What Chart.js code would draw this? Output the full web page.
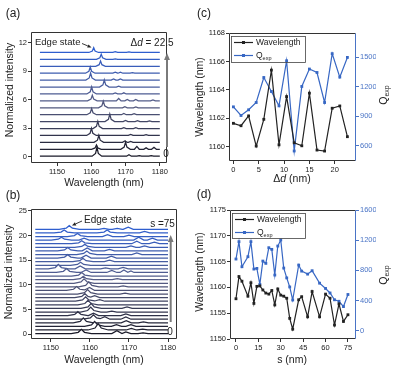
<!DOCTYPE html>
<html>
<head>
<meta charset="utf-8">
<script src="https://cdn.jsdelivr.net/npm/chart.js@4.4.1/dist/chart.umd.min.js"></script>
<style>
  html, body { margin: 0; padding: 0; background: #fff; }
  #wrap { position: relative; width: 394px; height: 375px; overflow: hidden; background: #fff; }
  canvas { position: absolute; left: 0; top: 0; }
</style>
</head>
<body>
<div id="wrap">
  <canvas id="chartA" width="394" height="375"></canvas>
  <canvas id="chartB" width="394" height="375"></canvas>
  <canvas id="chartC" width="394" height="375"></canvas>
  <canvas id="chartD" width="394" height="375"></canvas>
</div>
<script>
// ===============================
// Data
// ===============================

// (c) edge state vs. delta d
const deltaD = [0, 1.5, 3, 4.5, 6, 7.5, 9, 10.5, 12, 13.5, 15, 16.5, 18, 19.5, 21, 22.5];
const wavelengthC = [1161.65, 1161.48, 1162.17, 1160.05, 1161.93, 1165.39, 1160.14, 1163.53,
                     1160.28, 1160.07, 1163.77, 1159.77, 1159.70, 1162.71, 1162.87, 1160.71];
const qExpC = [994, 906, 964, 1038, 1292, 1150, 1004, 1462, 546, 1201, 1378, 1343, 1038, 1534, 1296, 1496];

// (d) edge state vs. s
const sValues = [0, 2, 4, 8, 10, 12, 14, 16, 18, 20, 22, 24, 26, 28, 30, 32, 34, 36, 38, 42,
                 44, 48, 51, 56, 60, 63, 66, 69, 72, 75];
const wavelengthD = [1157.8, 1162.1, 1161.2, 1158.3, 1160.9, 1156.9, 1160.2, 1160.3, 1159.5, 1158.9,
                     1158.7, 1159.4, 1156.6, 1159.7, 1158.5, 1158.3, 1157.9, 1154.0, 1151.9, 1157.6,
                     1158.2, 1154.3, 1159.2, 1154.3, 1158.7, 1157.9, 1152.7, 1156.8, 1153.4, 1154.7];
const qExpD = [950, 1180, 848, 981, 1180, 817, 826, 614, 923, 893, 1100, 1078, 738, 1122, 1202,
               830, 700, 580, 407, 870, 790, 750, 795, 630, 560, 500, 410, 390, 320, 480];

// tick labels
const ticksAx = [1150, 1160, 1170, 1180];
const ticksAy = [0, 3, 6, 9, 12];
const ticksBx = [1150, 1160, 1170, 1180];
const ticksBy = [0, 5, 10, 15, 20, 25];
const ticksCx = [0, 5, 10, 15, 20];
const ticksCy = [1160, 1162, 1164, 1166, 1168];
const ticksCq = [600, 900, 1200, 1500];
const ticksDx = [0, 15, 30, 45, 60, 75];
const ticksDy = [1150, 1155, 1160, 1165, 1170, 1175];
const ticksDq = [0, 400, 800, 1200, 1600];

// (a) spectra, [wavelength, intensity above own baseline], bottom (0) to top (22.5)
const offsetsA = [0.05, 0.78, 1.51, 2.24, 2.97, 3.7, 4.43, 5.16, 5.89, 6.62, 7.35, 8.08, 8.81, 9.54, 10.27, 11.0];
const spectraA = [
  [[1145,0],[1160.25,0],[1161.25,.29],[1161.65,.95],[1162.05,.29],[1163.05,0],[1170.3,0],[1171,.15],[1171.7,0],[1173.3,0],[1174,.06],[1174.7,0],[1176.8,0],[1177.5,.05],[1178.2,0],[1180,0]],
  [[1145,0],[1160.1,0],[1161.1,.14],[1161.5,.45],[1161.9,.14],[1162.9,0],[1168.6,0],[1169.6,.23],[1170,.75],[1170.4,.23],[1171.4,0],[1172.6,0],[1173.3,.3],[1174,0],[1175.3,0],[1176,.15],[1176.7,0],[1177.6,0],[1178.3,.2],[1179,0],[1180,0]],
  [[1145,0],[1160.8,0],[1161.8,.23],[1162.2,.75],[1162.6,.23],[1163.6,0],[1169.1,0],[1169.8,.15],[1170.5,0],[1170.8,0],[1171.5,.1],[1172.2,0],[1180,0]],
  [[1145,0],[1158.65,0],[1159.65,.23],[1160.05,.75],[1160.45,.23],[1161.45,0],[1170.8,0],[1171.5,.1],[1172.2,0],[1175.3,0],[1176,.08],[1176.7,0],[1180,0]],
  [[1145,0],[1160.5,0],[1161.5,.23],[1161.9,.75],[1162.3,.23],[1163.3,0],[1168.8,0],[1169.5,.1],[1170.2,0],[1172.3,0],[1173,.08],[1173.7,0],[1180,0]],
  [[1145,0],[1164,0],[1165,.24],[1165.4,.8],[1165.8,.24],[1166.8,0],[1169.3,0],[1170,.12],[1170.7,0],[1172.8,0],[1173.5,.1],[1174.2,0],[1176.3,0],[1177,.08],[1177.7,0],[1180,0]],
  [[1145,0],[1158.7,0],[1159.7,.2],[1160.1,.65],[1160.5,.2],[1161.5,0],[1168.8,0],[1169.5,.12],[1170.2,0],[1171.8,0],[1172.5,.1],[1173.2,0],[1180,0]],
  [[1145,0],[1162.1,0],[1163.1,.21],[1163.5,.7],[1163.9,.21],[1164.9,0],[1169.1,0],[1169.8,.12],[1170.5,0],[1172.3,0],[1173,.1],[1173.7,0],[1180,0]],
  [[1145,0],[1158.9,0],[1159.9,.18],[1160.3,.6],[1160.7,.18],[1161.7,0],[1167.3,0],[1168,.25],[1168.7,0],[1169.8,0],[1170.5,.15],[1171.2,0],[1172.3,0],[1173,.15],[1173.7,0],[1177.3,0],[1178,.1],[1178.7,0],[1180,0]],
  [[1145,0],[1158.7,0],[1159.7,.23],[1160.1,.75],[1160.5,.23],[1161.5,0],[1166.3,0],[1167,.1],[1167.7,0],[1168.8,0],[1169.5,.12],[1170.2,0],[1180,0]],
  [[1145,0],[1162.4,0],[1163.4,.23],[1163.8,.75],[1164.2,.23],[1165.2,0],[1167.3,0],[1168,.1],[1168.7,0],[1180,0]],
  [[1145,0],[1158.4,0],[1159.4,.23],[1159.8,.75],[1160.2,.23],[1161.2,0],[1165.8,0],[1166.5,.12],[1167.2,0],[1167.8,0],[1168.5,.12],[1169.2,0],[1180,0]],
  [[1145,0],[1158.3,0],[1159.3,.2],[1159.7,.65],[1160.1,.2],[1161.1,0],[1166.3,0],[1167,.1],[1167.7,0],[1167.8,0],[1168.5,.12],[1169.2,0],[1171.3,0],[1172,.06],[1172.7,0],[1180,0]],
  [[1145,0],[1161.3,0],[1162.3,.17],[1162.7,.55],[1163.1,.17],[1164.1,0],[1180,0]],
  [[1145,0],[1161.5,0],[1162.5,.17],[1162.9,.55],[1163.3,.17],[1164.3,0],[1166.3,0],[1167,.05],[1167.7,0],[1180,0]],
  [[1145,0],[1159.3,0],[1160.3,.15],[1160.7,.5],[1161.1,.15],[1162.1,0],[1166.3,0],[1167,.08],[1167.7,0],[1170.3,0],[1171,.06],[1171.7,0],[1180,0]]
];

// (b) spectra, bottom (s = 0) to top (s = 75)
const offsetsB = [0.1, 0.83, 1.56, 2.29, 3.02, 3.75, 4.48, 5.21, 5.94, 6.67, 7.4, 8.13, 8.86, 9.59, 10.32,
                  11.05, 11.78, 12.51, 13.24, 13.97, 14.7, 15.43, 16.16, 16.89, 17.62, 18.35, 19.08, 19.81, 20.54, 21.27];
const spectraB = [
  [[1146,0],[1155.2,0],[1157,.26],[1157.8,.85],[1158.6,.26],[1160.4,0],[1165.6,0],[1166.9,.6],[1168.2,0],[1169.2,.35],[1170.5,0],[1172.3,0],[1173.6,.15],[1174.9,0],[1180,0]],
  [[1146,0],[1159.5,0],[1161.3,.39],[1162.1,1.3],[1162.9,.39],[1164.7,0],[1169.3,0],[1170.6,.3],[1171.9,0],[1172.2,0],[1173.5,.15],[1174.8,0],[1180,0]],
  [[1146,0],[1158.6,0],[1160.4,.3],[1161.2,1.0],[1162,.3],[1163.8,0],[1165.5,0],[1166.8,.35],[1168.1,0],[1169.2,0],[1170.5,.35],[1171.8,0],[1180,0]],
  [[1146,0],[1155.7,0],[1157.5,.3],[1158.3,1.0],[1159.1,.3],[1160.9,0],[1168,0],[1169.3,.45],[1170.6,0],[1172.4,0],[1173.7,.2],[1175,0],[1180,0]],
  [[1146,0],[1158.3,0],[1160.1,.27],[1160.9,.9],[1161.7,.27],[1162.6,.1],[1163.8,.5],[1165.1,0],[1167.9,0],[1169.2,.45],[1170.5,0],[1180,0]],
  [[1146,0],[1154.3,0],[1156.1,.24],[1156.9,.8],[1157.7,.24],[1159.5,0],[1159.6,0],[1160.9,.5],[1162.2,0],[1167.9,0],[1169.2,.35],[1170.5,0],[1180,0]],
  [[1146,0],[1157.6,0],[1159.4,.3],[1160.2,1.0],[1161,.3],[1162.8,0],[1164.3,0],[1165.6,.2],[1166.9,0],[1180,0]],
  [[1146,0],[1157.7,0],[1159.5,.3],[1160.3,1.0],[1161.1,.3],[1162.9,0],[1168.2,0],[1169.5,.3],[1170.8,0],[1180,0]],
  [[1146,0],[1156.9,0],[1158.7,.27],[1159.5,.9],[1160.3,.27],[1162.1,0],[1180,0]],
  [[1146,0],[1156.3,0],[1158.1,.27],[1158.9,.9],[1159.7,.27],[1161.2,.05],[1162.5,.3],[1163.8,0],[1180,0]],
  [[1146,0],[1156.1,0],[1157.9,.24],[1158.7,.8],[1159.5,.24],[1160.2,.12],[1161.2,.4],[1162.5,0],[1180,0]],
  [[1146,0],[1156.8,0],[1158.6,.27],[1159.4,.9],[1160.2,.27],[1162,0],[1167.7,0],[1169,.2],[1170.3,0],[1180,0]],
  [[1146,0],[1154,0],[1155.8,.24],[1156.6,.8],[1157.4,.24],[1158.6,.1],[1159.9,.6],[1161.2,0],[1180,0]],
  [[1146,0],[1157.1,0],[1158.9,.3],[1159.7,1.0],[1160.5,.3],[1162.3,0],[1167.2,0],[1168.5,.2],[1169.8,0],[1180,0]],
  [[1146,0],[1155.9,0],[1157.7,.27],[1158.5,.9],[1159.3,.27],[1161.1,0],[1180,0]],
  [[1146,0],[1155.7,0],[1157.5,.21],[1158.3,.7],[1159.1,.21],[1160.9,0],[1165.7,0],[1167,.2],[1168.3,0],[1180,0]],
  [[1146,0],[1155.3,0],[1157.1,.21],[1157.9,.7],[1158.7,.21],[1160.5,0],[1180,0]],
  [[1146,0],[1151.4,0],[1153.2,.24],[1154,.8],[1154.8,.24],[1156.6,0],[1157.7,0],[1159,.5],[1160.3,0],[1164.3,0],[1165.6,.4],[1166.9,0],[1167.7,0],[1168.7,.5],[1169.7,.05],[1170.5,.3],[1171.3,0],[1180,0]],
  [[1146,0],[1149.3,0],[1151.1,.27],[1151.9,.9],[1152.7,.27],[1154.5,0],[1156.2,0],[1157.5,.6],[1158.8,0],[1162.7,0],[1164,.2],[1165.3,0],[1167.2,0],[1168.5,.3],[1169.8,0],[1180,0]],
  [[1146,0],[1155,0],[1156.8,.18],[1157.6,.6],[1158.4,.18],[1160.2,0],[1180,0]],
  [[1146,0],[1155.6,0],[1157.4,.21],[1158.2,.7],[1159,.21],[1160.8,0],[1163.7,0],[1165,.3],[1166.3,0],[1180,0]],
  [[1146,0],[1151.7,0],[1153.5,.21],[1154.3,.7],[1155.1,.21],[1156.9,0],[1157.7,0],[1159,.6],[1160.3,0],[1164.2,0],[1165.5,.4],[1166.8,0],[1180,0]],
  [[1146,0],[1156.6,0],[1158.4,.21],[1159.2,.7],[1160,.21],[1161.8,0],[1170.7,0],[1172,.3],[1173.3,0],[1180,0]],
  [[1146,0],[1151.7,0],[1153.5,.21],[1154.3,.7],[1155.1,.21],[1156.9,0],[1158,0],[1159.3,.6],[1160.6,0],[1163.7,0],[1165,.3],[1166.3,0],[1180,0]],
  [[1146,0],[1156.1,0],[1157.9,.18],[1158.7,.6],[1159.5,.18],[1161.3,0],[1169.2,0],[1170.5,.3],[1171.8,0],[1172.7,0],[1174,.3],[1175.3,0],[1180,0]],
  [[1146,0],[1155.3,0],[1157.1,.18],[1157.9,.6],[1158.7,.18],[1160.5,0],[1170.7,0],[1172,.5],[1173.3,0],[1175.2,0],[1176.5,.3],[1177.8,0],[1180,0]],
  [[1146,0],[1150.1,0],[1151.9,.18],[1152.7,.6],[1153.5,.18],[1155.3,0],[1157.2,0],[1158.5,.4],[1159.8,0],[1171.2,0],[1172.5,.6],[1173.8,0],[1174.7,0],[1176,.4],[1177.3,0],[1180,0]],
  [[1146,0],[1154.2,0],[1156,.18],[1156.8,.6],[1157.6,.18],[1159.4,0],[1163.2,0],[1164.5,.4],[1165.8,0],[1168.7,0],[1170,.3],[1171.3,0],[1180,0]],
  [[1146,0],[1150.8,0],[1152.6,.18],[1153.4,.6],[1154.2,.18],[1156,0],[1161.8,0],[1163.6,.18],[1164.4,.6],[1165.2,.18],[1167,0],[1172.7,0],[1174,.3],[1175.3,0],[1180,0]],
  [[1146,0],[1152.1,0],[1153.9,.23],[1154.7,.75],[1155.5,.23],[1157.3,0],[1162.3,0],[1163.6,.2],[1164.9,0],[1165.7,0],[1167,.2],[1168.3,0],[1168.5,0],[1169.8,.45],[1171.1,0],[1180,0]]
];

// ===============================
// Shared styling / helpers
// ===============================

const FONT = "'Liberation Sans', Arial, Helvetica, sans-serif";
const INK = '#222';
const BLUE = '#3767c4';
const AXIS_BLUE = '#4a74c6';

Chart.defaults.font.family = FONT;
Chart.defaults.color = INK;

function spectrumColor(t) {
  // dark navy -> grey-blue -> blue
  const stops = [[26, 26, 40], [86, 92, 132], [46, 94, 206]];
  const k = t < 0.5 ? 0 : 1;
  const u = t < 0.5 ? t * 2 : (t - 0.5) * 2;
  const a = stops[k], b = stops[k + 1];
  return 'rgb(' + a.map((v, j) => Math.round(v + (b[j] - v) * u)).join(',') + ')';
}

function axis(min, max, ticks, pos, color) {
  const c = color || INK;
  return {
    type: 'linear', position: pos, min: min, max: max,
    afterBuildTicks: s => { s.ticks = ticks.map(v => ({ value: v })); },
    afterFit: s => { if (pos === 'bottom') s.height = 20; else s.width = 20; },
    grid: { drawOnChartArea: false, drawTicks: true, tickLength: 3, color: c === INK ? '#333' : c },
    border: { display: false },
    ticks: {
      font: { size: 7.5 }, color: c, padding: 1, maxRotation: 0, autoSkip: false,
      callback: v => String(v)
    }
  };
}

function rich(ctx, item) {
  ctx.save();
  ctx.translate(item.x, item.y);
  if (item.rot) ctx.rotate(item.rot);
  ctx.fillStyle = item.color || INK;
  ctx.textBaseline = 'middle';
  const fontOf = p => (p.italic ? 'italic ' : '') + p.size + 'px ' + FONT;
  let w = 0;
  item.parts.forEach(p => { ctx.font = fontOf(p); w += ctx.measureText(p.t).width; });
  let x = item.align === 'left' ? 0 : item.align === 'right' ? -w : -w / 2;
  item.parts.forEach(p => {
    ctx.font = fontOf(p);
    ctx.fillText(p.t, x, p.dy || 0);
    x += ctx.measureText(p.t).width;
  });
  ctx.restore();
}

function arrow(ctx, a) {
  const [x1, y1, x2, y2, color, width, head] = a;
  const ang = Math.atan2(y2 - y1, x2 - x1);
  const bx = x2 - head * Math.cos(ang), by = y2 - head * Math.sin(ang);
  const hw = head * 0.42;
  ctx.save();
  ctx.strokeStyle = color; ctx.fillStyle = color; ctx.lineWidth = width;
  ctx.beginPath(); ctx.moveTo(x1, y1); ctx.lineTo(bx, by); ctx.stroke();
  ctx.beginPath();
  ctx.moveTo(x2, y2);
  ctx.lineTo(bx + hw * Math.sin(ang), by - hw * Math.cos(ang));
  ctx.lineTo(bx - hw * Math.sin(ang), by + hw * Math.cos(ang));
  ctx.closePath(); ctx.fill();
  ctx.restore();
}

// box frame around the plot area
const framePlugin = {
  id: 'frame',
  afterDatasetsDraw(chart, args, opts) {
    const { ctx, chartArea: a } = chart;
    const L = Math.round(a.left) + 0.5, R = Math.round(a.right) - 0.5;
    const T = Math.round(a.top) + 0.5, B = Math.round(a.bottom) - 0.5;
    const seg = (x1, y1, x2, y2, c) => {
      ctx.beginPath(); ctx.strokeStyle = c; ctx.moveTo(x1, y1); ctx.lineTo(x2, y2); ctx.stroke();
    };
    ctx.save();
    ctx.lineWidth = 1;
    seg(L, T, R, T, '#333');
    seg(L, B, R, B, '#333');
    seg(L, T, L, B, '#333');
    seg(R, T, R, B, opts.right || '#333');
    ctx.restore();
  }
};

// titles, labels, arrows, legend box
const notesPlugin = {
  id: 'notes',
  afterDraw(chart, args, opts) {
    const ctx = chart.ctx;
    (opts.arrows || []).forEach(a => arrow(ctx, a));
    (opts.texts || []).forEach(t => rich(ctx, t));
    const lg = opts.legend;
    if (lg) {
      ctx.save();
      ctx.strokeStyle = '#444'; ctx.lineWidth = 0.8;
      ctx.strokeRect(lg.x + 0.5, lg.y + 0.5, lg.w, lg.h);
      lg.rows.forEach(r => {
        ctx.strokeStyle = r.color; ctx.fillStyle = r.color; ctx.lineWidth = 1.2;
        ctx.beginPath(); ctx.moveTo(lg.x + 3, r.y); ctx.lineTo(lg.x + 22, r.y); ctx.stroke();
        ctx.fillRect(lg.x + 11, r.y - 1.5, 3, 3);
        rich(ctx, { x: lg.x + 25, y: r.y, align: 'left', parts: r.parts });
      });
      ctx.restore();
    }
  }
};

function baseOptions(padding, scales, frame, notes) {
  return {
    responsive: false,
    animation: false,
    events: [],
    layout: { padding: padding },
    plugins: {
      legend: { display: false },
      tooltip: { enabled: false },
      frame: frame,
      notes: notes
    },
    scales: scales
  };
}

function spectraDatasets(spectra, offsets, floor) {
  const n = spectra.length;
  return spectra.map((pts, i) => ({
    data: pts.map(p => ({ x: p[0], y: p[1] + offsets[i] })),
    borderColor: spectrumColor(i / (n - 1)),
    borderWidth: 1.25,
    pointRadius: 0,
    tension: 0,
    fill: { value: floor },
    backgroundColor: '#ffffff'
  }));
}

const T = (x, y, parts, extra) => Object.assign({ x: x, y: y, parts: parts }, extra || {});
const P = (t, size, more) => Object.assign({ t: t, size: size }, more || {});

// ===============================
// (a) Spectra vs. delta d
// ===============================

new Chart(document.getElementById('chartA'), {
  type: 'line',
  data: { datasets: spectraDatasets(spectraA, offsetsA, -0.4) },
  options: baseOptions(
    { left: 11, top: 32, right: 227, bottom: 192 },
    {
      x: axis(1142.4, 1182.1, ticksAx, 'bottom'),
      y: axis(-0.67, 13.16, ticksAy, 'left')
    },
    {},
    {
      arrows: [
        [167, 147, 167, 53, '#7a7a7a', 2, 7],
        [82, 43.5, 91.5, 47.5, INK, 0.9, 4]
      ],
      texts: [
        T(13, 14, [P('(a)', 12)]),
        T(10, 90, [P('Normalized intensity', 10.5)], { rot: -Math.PI / 2 }),
        T(104, 183, [P('Wavelength (nm)', 10.5)]),
        T(35, 42, [P('Edge state', 9.5)], { align: 'left' }),
        T(152, 43, [P('\u0394', 10), P('d', 10, { italic: true }), P(' = 22.5', 10)]),
        T(166, 154, [P('0', 10)])
      ]
    }
  ),
  plugins: [framePlugin, notesPlugin]
});

// ===============================
// (b) Spectra vs. s
// ===============================

new Chart(document.getElementById('chartB'), {
  type: 'line',
  data: { datasets: spectraDatasets(spectraB, offsetsB, -0.6) },
  options: baseOptions(
    { left: 11, top: 209, right: 217, bottom: 16 },
    {
      x: axis(1144.9, 1182.3, ticksBx, 'bottom'),
      y: axis(-1, 25.4, ticksBy, 'left')
    },
    {},
    {
      arrows: [
        [170.7, 322, 170.7, 235, '#7a7a7a', 2, 7],
        [82, 221, 72, 225.5, INK, 0.9, 4]
      ],
      texts: [
        T(13, 196, [P('(b)', 12)]),
        T(9, 272, [P('Normalized intensity', 10.5)], { rot: -Math.PI / 2 }),
        T(104, 360, [P('Wavelength (nm)', 10.5)]),
        T(84, 220, [P('Edge state', 10)], { align: 'left' }),
        T(162.5, 224, [P('s =75', 10)]),
        T(170, 332, [P('0', 10)])
      ]
    }
  ),
  plugins: [framePlugin, notesPlugin]
});

// ===============================
// (c) Wavelength and Q vs. delta d
// ===============================

new Chart(document.getElementById('chartC'), {
  type: 'line',
  data: {
    datasets: [
      {
        label: 'Wavelength',
        data: deltaD.map((x, i) => ({ x: x, y: wavelengthC[i] })),
        yAxisID: 'y',
        borderColor: INK, backgroundColor: INK, borderWidth: 1.2,
        pointStyle: 'rect', pointRadius: 2, pointBorderWidth: 0, tension: 0
      },
      {
        label: 'Qexp',
        data: deltaD.map((x, i) => ({ x: x, y: qExpC[i] })),
        yAxisID: 'y2',
        borderColor: BLUE, backgroundColor: BLUE, borderWidth: 1.2,
        pointStyle: 'rect', pointRadius: 2, pointBorderWidth: 0, tension: 0
      }
    ]
  },
  options: baseOptions(
    { left: 209, top: 33, right: 18, bottom: 194 },
    {
      x: axis(-0.87, 24.2, ticksCx, 'bottom'),
      y: axis(1159, 1168, ticksCy, 'left'),
      y2: axis(444, 1744, ticksCq, 'right', AXIS_BLUE)
    },
    { right: AXIS_BLUE },
    {
      texts: [
        T(204, 14, [P('(c)', 12)]),
        T(200, 97, [P('Wavelength (nm)', 10.5)], { rot: -Math.PI / 2 }),
        T(384, 95, [P('Q', 10.5), P('exp', 7, { dy: 3 })], { rot: -Math.PI / 2 }),
        T(292, 179, [P('\u0394', 10.5), P('d', 10.5, { italic: true }), P(' (nm)', 10.5)])
      ],
      legend: {
        x: 231, y: 36, w: 74, h: 26,
        rows: [
          { y: 42.5, color: INK, parts: [P('Wavelength', 8.5)] },
          { y: 55.5, color: BLUE, parts: [P('Q', 8.5), P('exp', 5.5, { dy: 2.5 })] }
        ]
      }
    }
  ),
  plugins: [framePlugin, notesPlugin]
});

// ===============================
// (d) Wavelength and Q vs. s
// ===============================

new Chart(document.getElementById('chartD'), {
  type: 'line',
  data: {
    datasets: [
      {
        label: 'Wavelength',
        data: sValues.map((x, i) => ({ x: x, y: wavelengthD[i] })),
        yAxisID: 'y',
        borderColor: INK, backgroundColor: INK, borderWidth: 1.2,
        pointStyle: 'rect', pointRadius: 2, pointBorderWidth: 0, tension: 0
      },
      {
        label: 'Qexp',
        data: sValues.map((x, i) => ({ x: x, y: qExpD[i] })),
        yAxisID: 'y2',
        borderColor: BLUE, backgroundColor: BLUE, borderWidth: 1.2,
        pointStyle: 'rect', pointRadius: 2, pointBorderWidth: 0, tension: 0
      }
    ]
  },
  options: baseOptions(
    { left: 210, top: 210, right: 18, bottom: 16 },
    {
      x: axis(-4, 80.4, ticksDx, 'bottom'),
      y: axis(1150, 1175, ticksDy, 'left'),
      y2: axis(-110, 1600, ticksDq, 'right', AXIS_BLUE)
    },
    { right: AXIS_BLUE },
    {
      texts: [
        T(204, 195, [P('(d)', 12)]),
        T(200, 272, [P('Wavelength (nm)', 10.5)], { rot: -Math.PI / 2 }),
        T(384, 275, [P('Q', 10.5), P('exp', 7, { dy: 3 })], { rot: -Math.PI / 2 }),
        T(292, 360, [P('s (nm)', 10.5)])
      ],
      legend: {
        x: 232, y: 213, w: 73, h: 25,
        rows: [
          { y: 219.5, color: INK, parts: [P('Wavelength', 8.5)] },
          { y: 232.5, color: BLUE, parts: [P('Q', 8.5), P('exp', 5.5, { dy: 2.5 })] }
        ]
      }
    }
  ),
  plugins: [framePlugin, notesPlugin]
});
</script>
</body>
</html>
